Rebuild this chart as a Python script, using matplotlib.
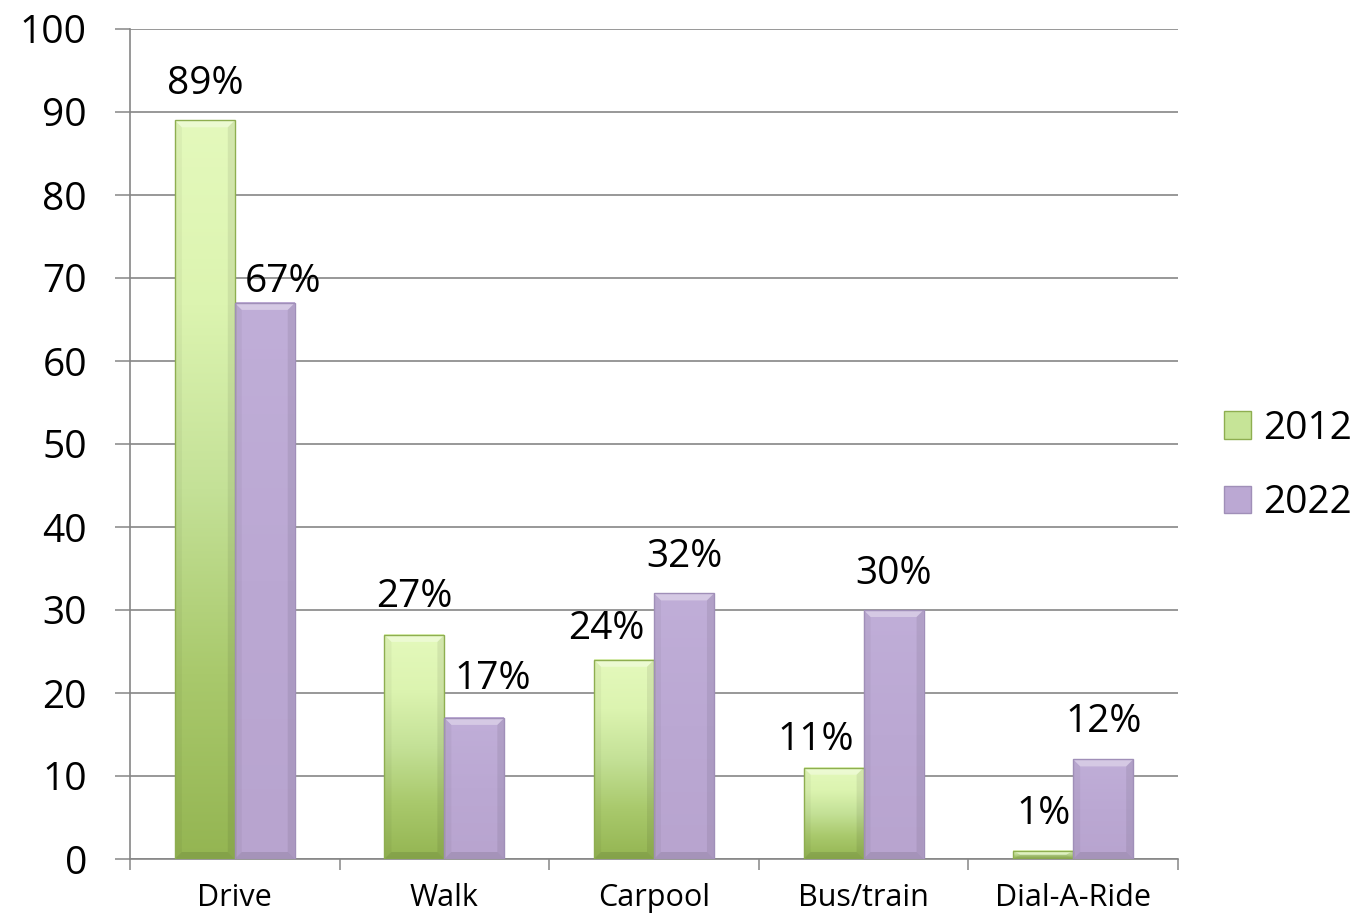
import matplotlib
matplotlib.use("Agg")
import matplotlib.pyplot as plt
import numpy as np
from matplotlib.patches import Patch, Polygon
from matplotlib.colors import LinearSegmentedColormap

categories = ["Drive", "Walk", "Carpool", "Bus/train", "Dial-A-Ride"]
series_names = ["2012", "2022"]
values_2012 = [89, 27, 24, 11, 1]
values_2022 = [67, 17, 32, 30, 12]
y_ticks = [0, 10, 20, 30, 40, 50, 60, 70, 80, 90, 100]

# nudges of the value labels (points), as placed in the reference
nudge_x_2012 = [0, 0, -13, -13, 0]
nudge_x_2022 = [13, 13, 0, 0, 0]
nudge_y_2012 = [0, 1, -4, -6, 0]
nudge_y_2022 = [-11, 2, 0, 0, 1]

plt.rcParams['font.family'] = ['Open Sans', 'DejaVu Sans']

W, H = 1366, 923
fig = plt.figure(figsize=(W/100, H/100), dpi=100)
ax_l, ax_b, ax_w, ax_h = 130, 64, 1048, 830
ax = fig.add_axes([ax_l/W, ax_b/H, ax_w/W, ax_h/H])

x = np.arange(len(categories))
w = 0.286
green_cmap = LinearSegmentedColormap.from_list(
    "g", ["#94b552", "#a9c96c", "#c4e197", "#dcf4b0", "#e4f9bc"])
purple_cmap = LinearSegmentedColormap.from_list("p", ["#b8a4cf", "#bba8d3", "#c0aed8"])

ax.set_xlim(-0.5, len(categories) - 0.5)
ax.set_ylim(0, 100)

bars1 = ax.bar(x - w/2, values_2012, w, color="#b3d47a", edgecolor="none", zorder=3)
bars2 = ax.bar(x + w/2, values_2022, w, color="#bba8d3", edgecolor="none", zorder=3)

# pixel -> data unit conversion for the bevel
px_x = (len(categories)) / ax_w
px_y = 100 / ax_h
bev = 7

grad = np.linspace(0, 1, 256).reshape(-1, 1)
for bars, cmap, ec in [(bars1, green_cmap, "#8eae50"), (bars2, purple_cmap, "#a08fb8")]:
    for b in bars:
        x0, y0 = b.get_x(), b.get_y()
        bw, bh = b.get_width(), b.get_height()
        x1, y1 = x0 + bw, y0 + bh
        ax.imshow(grad, extent=[x0, x1, y0, y1], origin="lower",
                  cmap=cmap, aspect="auto", zorder=4, interpolation="bilinear")
        dx = bev * px_x
        dy = min(bev * px_y, bh / 2)
        ax.add_patch(Polygon([(x0, y1), (x1, y1), (x1 - dx, y1 - dy), (x0 + dx, y1 - dy)],
                             closed=True, facecolor="white", alpha=0.35, edgecolor="none", zorder=5))
        ax.add_patch(Polygon([(x0, y0), (x1, y0), (x1 - dx, y0 + dy), (x0 + dx, y0 + dy)],
                             closed=True, facecolor="black", alpha=0.10, edgecolor="none", zorder=5))
        ax.add_patch(Polygon([(x0, y0), (x0 + dx, y0 + dy), (x0 + dx, y1 - dy), (x0, y1)],
                             closed=True, facecolor="black", alpha=0.04, edgecolor="none", zorder=5))
        ax.add_patch(Polygon([(x1, y0), (x1 - dx, y0 + dy), (x1 - dx, y1 - dy), (x1, y1)],
                             closed=True, facecolor="black", alpha=0.07, edgecolor="none", zorder=5))
        ax.add_patch(plt.Rectangle((x0, y0), bw, bh, fill=False, edgecolor=ec,
                                   linewidth=1.0, zorder=6))

for bars, vals, nx, ny in [(bars1, values_2012, nudge_x_2012, nudge_y_2012),
                           (bars2, values_2022, nudge_x_2022, nudge_y_2022)]:
    for b, v, a, c in zip(bars, vals, nx, ny):
        ax.annotate(f"{v}%", (b.get_x() + b.get_width()/2, b.get_height()),
                    xytext=(a, 19 + c), textcoords="offset points", ha="center", va="baseline",
                    fontsize=28, zorder=7)

ax.set_yticks(y_ticks)
ax.set_yticklabels([str(t) for t in y_ticks], fontsize=28)
ax.set_xticks(np.arange(len(categories) + 1) - 0.5)
ax.set_xticklabels([])
ax.set_xticks(x, minor=True)
ax.set_xticklabels(categories, minor=True, fontsize=22)
ax.tick_params(axis="x", which="minor", length=0, pad=17)
ax.tick_params(axis="x", which="major", length=8, color="#868686", width=1.1)
ax.tick_params(axis="y", length=11, color="#868686", width=1.1, pad=20)
ax.yaxis.grid(True, color="#868686", linewidth=1.2, zorder=0)
ax.set_axisbelow(True)
for s in ["top", "right"]:
    ax.spines[s].set_visible(False)
for s in ["left", "bottom"]:
    ax.spines[s].set_color("#868686")
    ax.spines[s].set_linewidth(1.2)

handles = [Patch(facecolor="#c6e497", edgecolor="#8eae50", label=series_names[0]),
           Patch(facecolor="#bba8d3", edgecolor="#a08fb8", label=series_names[1])]
fig.legend(handles=handles, loc="center left", bbox_to_anchor=(1224/W, 1 - 466/H),
           frameon=False, fontsize=28, handlelength=0.7, handleheight=0.7,
           handletextpad=0.3, labelspacing=0.95, borderpad=0, borderaxespad=0)

fig.savefig("out.png", dpi=100)
